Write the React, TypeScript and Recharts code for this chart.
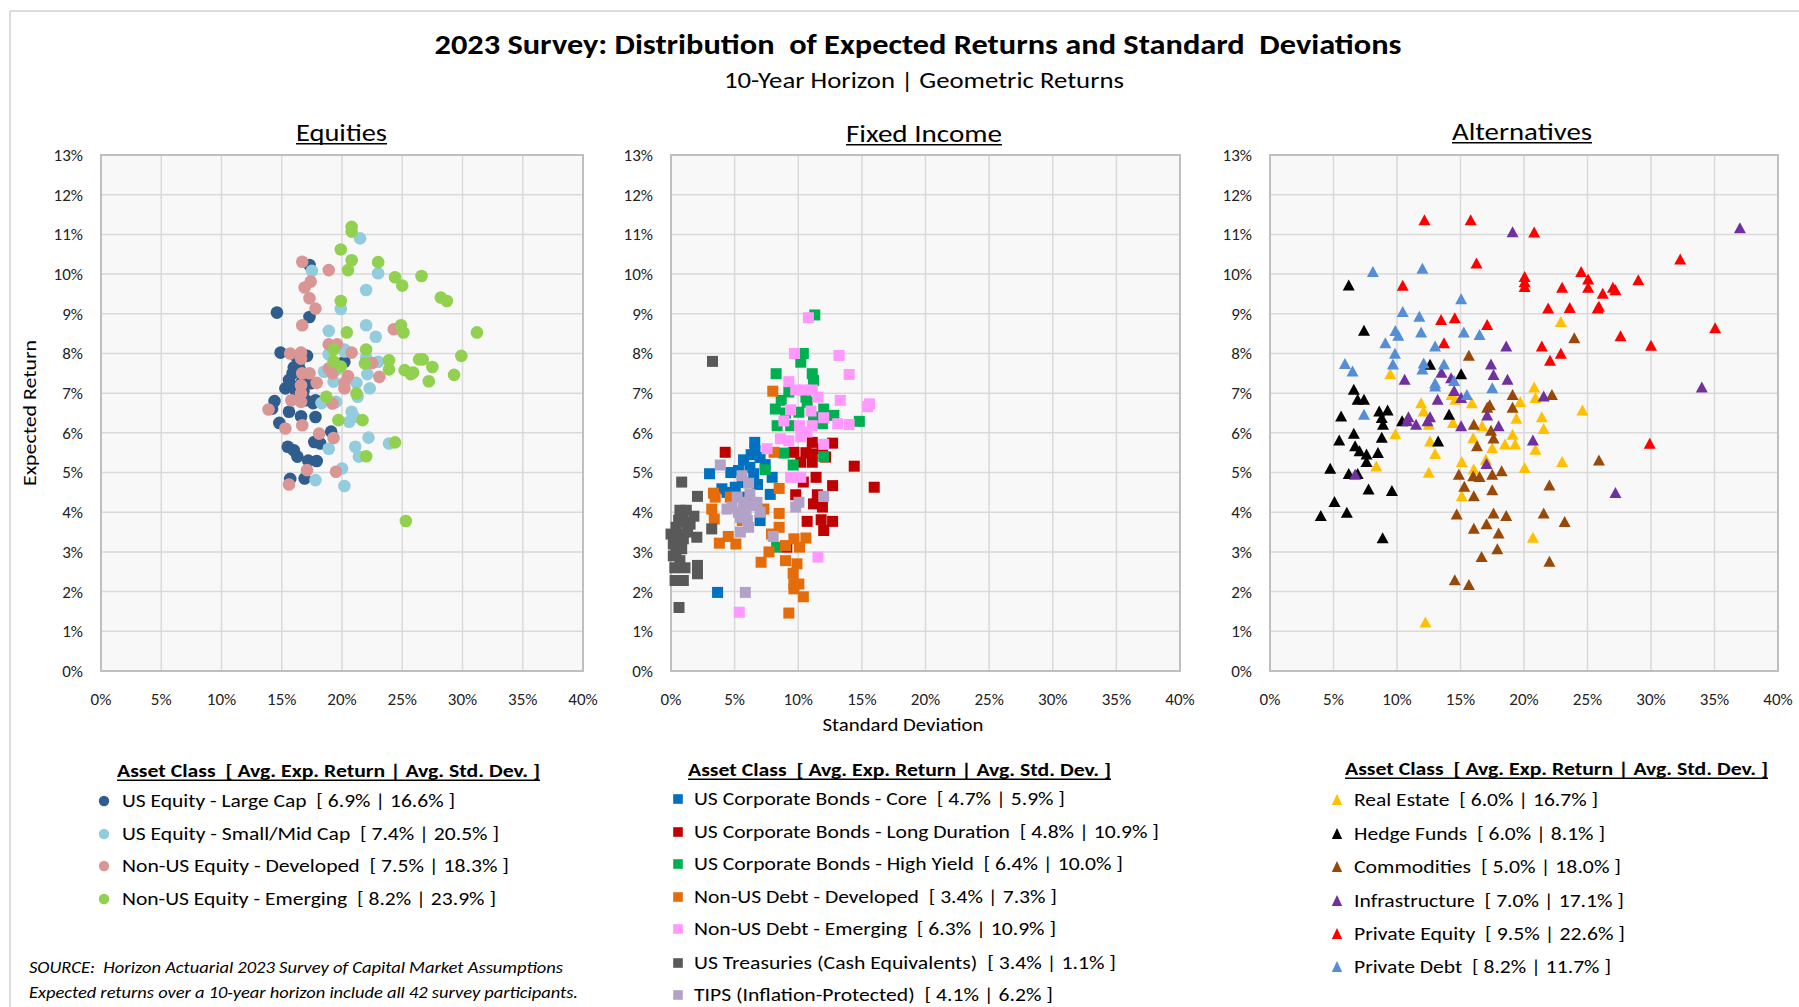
import React from 'react';
import { ScatterChart, Scatter, XAxis, YAxis, CartesianGrid, ReferenceArea } from 'recharts';

type Pt = [number, number];

const xTicks = [0, 5, 10, 15, 20, 25, 30, 35, 40];
const yTicks = [0, 1, 2, 3, 4, 5, 6, 7, 8, 9, 10, 11, 12, 13];

// ---------- Equities (std dev %, expected return %) ----------
const usLargeCap: Pt[] = [[14.6,9.03],[17.3,10.23],[17.3,8.92],[14.9,8.02],[16.2,7.92],[17.1,7.94],[20.2,7.79],[15.9,7.5],[15.6,7.33],[15.3,7.12],[16.2,7.03],[14.4,6.8],[14.2,6.61],[15.6,6.53],[16.6,6.42],[17.8,6.4],[14.8,6.25],[17.8,6.82],[19.1,6.03],[17.7,5.77],[18.2,5.73],[15.5,5.65],[16.0,5.56],[16.3,5.4],[17.2,5.3],[17.9,5.29],[15.7,4.84],[16.9,4.85],[16.7,7.3],[17.0,6.82],[16.0,7.65],[16.8,7.05],[17.4,7.25],[17.6,6.75],[16.4,7.75],[15.8,7.2],[16.5,7.6]];
const usSmallMid: Pt[] = [[21.5,10.9],[17.5,10.08],[23.0,10.02],[22.0,9.6],[19.9,9.12],[18.9,8.57],[22.0,8.71],[22.8,8.42],[20.2,8.1],[18.9,7.98],[18.5,7.54],[22.1,7.48],[23.0,7.79],[21.2,7.26],[22.3,7.12],[21.3,6.91],[19.5,6.78],[19.3,7.29],[20.8,6.53],[20.6,6.28],[22.2,5.88],[18.9,5.6],[21.1,5.65],[21.4,5.4],[23.9,5.73],[20.0,5.1],[17.8,4.81],[20.2,4.66],[18.3,6.75],[20.2,8.05],[21.0,6.4],[19.6,7.6],[22.0,7.9]];
const nonUsDeveloped: Pt[] = [[16.7,10.31],[18.9,10.1],[17.4,9.81],[16.9,9.66],[17.3,9.39],[17.8,9.13],[16.7,8.71],[24.3,8.61],[18.9,8.23],[19.6,8.23],[15.7,8.0],[16.6,8.02],[16.6,7.87],[20.8,8.02],[22.5,7.76],[18.9,7.62],[19.2,7.5],[16.7,7.5],[17.3,7.5],[20.5,7.43],[23.1,7.41],[17.9,7.26],[20.2,7.26],[20.2,7.12],[16.6,7.2],[16.6,6.99],[16.6,6.78],[15.8,6.82],[19.2,6.74],[13.9,6.59],[15.3,6.11],[16.7,6.19],[18.1,5.98],[19.3,5.87],[17.1,5.06],[19.5,5.02],[15.6,4.7]];
const nonUsEmerging: Pt[] = [[20.8,11.19],[20.8,11.07],[19.9,10.62],[20.8,10.35],[20.5,10.1],[23.0,10.3],[24.4,9.92],[25.0,9.71],[26.6,9.95],[28.2,9.41],[28.7,9.32],[19.9,9.32],[24.9,8.71],[25.1,8.53],[20.4,8.53],[31.2,8.53],[22.0,8.1],[19.3,8.1],[19.3,7.8],[19.9,7.67],[21.9,7.75],[23.9,7.83],[23.9,7.6],[25.2,7.58],[25.7,7.48],[25.9,7.52],[26.4,7.85],[26.7,7.85],[27.5,7.66],[27.2,7.3],[29.9,7.94],[29.3,7.46],[18.7,6.91],[21.2,6.99],[19.7,6.32],[21.7,6.32],[24.4,5.76],[22.0,5.41],[25.3,3.78]];

// ---------- Fixed Income ----------
const corpCore: Pt[] = [[6.58,5.76],[6.6,5.55],[5.7,5.32],[7.0,5.38],[6.2,5.13],[3.03,4.97],[4.7,5.0],[6.5,4.97],[7.95,4.88],[4.0,4.59],[5.05,4.63],[7.8,4.45],[7.0,3.79],[3.66,1.98],[5.97,4.38],[6.3,5.45],[5.3,5.05],[7.4,5.2],[4.4,4.5],[6.8,4.7],[5.6,4.75]];
const corpLong: Pt[] = [[4.26,5.51],[9.66,5.51],[11.1,5.76],[12.7,5.74],[11.1,5.47],[11.1,5.26],[12.15,5.39],[10.2,5.26],[14.4,5.16],[15.97,4.63],[12.7,4.67],[11.4,4.88],[10.4,4.76],[9.8,4.44],[11.5,4.44],[11.2,4.21],[11.9,4.13],[10.7,3.77],[11.8,3.81],[12.7,3.77],[12.0,3.54],[9.1,3.12],[11.9,5.6],[10.6,5.5]];
const corpHighYield: Pt[] = [[11.3,8.97],[10.4,8.0],[10.2,7.78],[8.26,7.49],[11.1,7.49],[11.2,7.32],[9.26,7.03],[8.66,6.82],[8.2,6.6],[10.7,6.77],[12.0,6.6],[12.8,6.44],[10.05,6.52],[8.34,6.18],[9.4,6.18],[11.9,6.23],[14.8,6.29],[8.87,5.49],[9.6,5.19],[7.4,5.07],[12.0,5.4],[8.3,3.12],[11.2,6.4],[9.0,6.5],[10.6,6.9]];
const debtDeveloped: Pt[] = [[8.0,7.05],[8.1,5.51],[8.5,4.6],[3.34,4.48],[3.47,4.38],[3.2,4.08],[3.4,3.83],[4.66,4.38],[8.5,3.97],[8.5,3.62],[7.9,3.45],[9.66,3.33],[10.6,3.35],[4.5,3.39],[3.8,3.22],[5.1,3.2],[7.7,3.0],[9.0,3.16],[10.1,3.12],[7.08,2.74],[9.0,2.78],[9.9,2.7],[9.6,2.46],[9.66,2.19],[10.05,2.19],[9.66,2.07],[10.4,1.87],[9.26,1.46],[7.3,4.08],[5.6,3.79]];
const debtEmerging: Pt[] = [[10.8,8.9],[9.7,8.0],[13.2,7.95],[14.0,7.47],[9.26,7.29],[9.8,7.08],[10.4,7.08],[11.1,7.08],[11.55,6.9],[13.3,6.82],[15.45,6.66],[15.6,6.73],[9.4,6.58],[11.0,6.55],[8.87,6.3],[10.1,6.18],[11.1,6.18],[12.0,6.38],[13.1,6.23],[14.0,6.21],[10.7,6.02],[8.6,5.85],[9.26,5.8],[10.2,5.9],[7.55,5.6],[12.0,5.71],[9.4,4.88],[10.2,4.88],[11.55,2.87],[5.37,1.48]];
const treasuries: Pt[] = [[3.26,7.8],[0.84,4.76],[2.08,4.4],[0.7,4.05],[1.2,4.05],[1.8,3.9],[0.6,3.8],[1.1,3.75],[0.4,3.62],[1.5,3.7],[3.2,3.58],[2.03,3.37],[0,3.45],[0.45,3.45],[0.97,3.33],[0.18,3.2],[0.84,3.08],[0.4,2.95],[0.18,2.9],[0.7,2.78],[0.3,2.6],[1.1,2.6],[2.08,2.66],[2.08,2.45],[0.32,2.28],[0.97,2.28],[0.63,1.6],[1.3,3.5],[0.9,3.95]];
const tips: Pt[] = [[3.87,5.19],[5.58,4.92],[6.1,4.73],[5.2,4.38],[4.8,4.13],[5.7,4.25],[6.4,4.17],[6.76,4.25],[7.0,4.0],[5.45,3.87],[6.0,3.79],[6.1,3.62],[5.45,3.5],[4.4,4.08],[9.8,4.13],[10.05,4.25],[12.0,4.4],[8.03,3.39],[5.84,1.98],[5.9,4.05],[5.3,4.0],[6.2,4.45]];

// ---------- Alternatives ----------
const realEstate: Pt[] = [[9.47,7.48],[9.87,5.97],[8.37,5.16],[12.24,1.23],[11.9,6.75],[12.1,6.54],[12.5,6.21],[14.3,6.96],[14.6,6.84],[15.9,6.75],[14.4,6.25],[12.6,5.79],[13.0,5.47],[12.5,5.0],[15.1,5.27],[15.1,4.41],[16.05,5.08],[17.0,5.33],[16.7,6.17],[16.0,5.87],[17.5,5.62],[18.5,5.71],[19.3,5.71],[19.1,5.96],[19.4,6.36],[19.7,6.78],[20.8,7.15],[20.9,6.88],[20.05,5.12],[20.7,3.36],[20.9,5.58],[22.9,8.8],[24.6,6.57],[21.4,6.4],[21.55,6.1],[23.0,5.27]];
const hedgeFunds: Pt[] = [[6.2,9.72],[7.4,8.58],[12.6,7.72],[15.05,7.48],[6.6,7.09],[6.9,6.84],[7.4,6.84],[5.6,6.42],[8.6,6.54],[9.26,6.57],[8.8,6.38],[8.9,6.21],[8.8,5.88],[14.1,6.46],[5.45,5.81],[6.6,5.98],[6.7,5.67],[7.05,5.54],[7.6,5.46],[7.6,5.27],[8.5,5.5],[13.24,5.79],[4.74,5.1],[6.2,4.97],[6.9,4.97],[7.76,4.58],[9.6,4.54],[5.08,4.26],[4.0,3.91],[6.05,3.99],[8.87,3.35],[10.4,6.3]];
const commodities: Pt[] = [[15.66,7.95],[19.1,6.96],[19.1,6.64],[17.1,6.64],[16.05,6.21],[17.4,6.06],[17.6,5.86],[16.3,5.67],[14.87,4.95],[16.0,4.91],[16.5,4.89],[17.5,4.95],[18.24,5.04],[15.3,4.65],[17.5,4.56],[16.05,4.41],[14.7,3.95],[17.6,3.97],[18.6,3.91],[16.05,3.59],[17.05,3.7],[18.0,3.47],[17.9,3.07],[16.66,2.88],[14.55,2.29],[15.66,2.17],[23.96,8.39],[22.2,6.96],[25.9,5.31],[22.0,4.68],[21.55,3.97],[23.2,3.76],[22.0,2.76],[17.3,6.7]];
const infrastructure: Pt[] = [[19.1,11.06],[18.6,8.18],[17.4,7.73],[17.6,7.46],[18.7,7.34],[13.5,7.52],[10.6,7.34],[14.26,7.38],[14.5,7.06],[15.05,6.88],[13.2,6.84],[17.1,6.44],[18.0,6.17],[15.05,6.17],[12.6,6.4],[12.4,6.3],[10.8,6.3],[11.5,6.21],[20.7,5.81],[17.05,5.22],[6.7,4.95],[37.0,11.16],[34.0,7.15],[21.55,6.92],[27.2,4.49],[10.9,6.4]];
const privateEquity: Pt[] = [[12.16,11.36],[15.8,11.36],[20.8,11.05],[16.26,10.27],[10.45,9.71],[20.05,9.93],[20.05,9.8],[20.05,9.68],[13.47,8.85],[14.55,8.89],[17.1,8.72],[13.7,8.26],[21.4,8.18],[24.5,10.06],[25.05,9.87],[25.05,9.66],[23.0,9.66],[26.2,9.51],[27.0,9.66],[27.2,9.6],[29.0,9.85],[32.3,10.37],[21.9,9.14],[23.6,9.15],[25.8,9.14],[25.9,9.18],[35.05,8.64],[27.6,8.44],[30.0,8.2],[22.9,8.0],[22.05,7.82],[29.9,5.73]];
const privateDebt: Pt[] = [[8.1,10.06],[12.0,10.14],[15.05,9.37],[10.45,9.05],[11.76,8.93],[9.87,8.57],[10.1,8.45],[11.9,8.53],[13.0,8.18],[15.26,8.53],[16.5,8.47],[9.08,8.26],[9.84,8.0],[9.68,7.73],[5.9,7.74],[6.5,7.55],[12.1,7.75],[12.0,7.6],[13.7,7.73],[14.5,7.31],[13.0,7.25],[13.0,7.17],[15.5,6.96],[17.5,7.13],[7.4,6.46]];

// ---------- Legend labels ----------
const equityLabels = [
  'US Equity - Large Cap  [ 6.9% | 16.6% ]',
  'US Equity - Small/Mid Cap  [ 7.4% | 20.5% ]',
  'Non-US Equity - Developed  [ 7.5% | 18.3% ]',
  'Non-US Equity - Emerging  [ 8.2% | 23.9% ]',
];
const fixedLabels = [
  'US Corporate Bonds - Core  [ 4.7% | 5.9% ]',
  'US Corporate Bonds - Long Duration  [ 4.8% | 10.9% ]',
  'US Corporate Bonds - High Yield  [ 6.4% | 10.0% ]',
  'Non-US Debt - Developed  [ 3.4% | 7.3% ]',
  'Non-US Debt - Emerging  [ 6.3% | 10.9% ]',
  'US Treasuries (Cash Equivalents)  [ 3.4% | 1.1% ]',
  'TIPS (Inflation-Protected)  [ 4.1% | 6.2% ]',
];
const altLabels = [
  'Real Estate  [ 6.0% | 16.7% ]',
  'Hedge Funds  [ 6.0% | 8.1% ]',
  'Commodities  [ 5.0% | 18.0% ]',
  'Infrastructure  [ 7.0% | 17.1% ]',
  'Private Equity  [ 9.5% | 22.6% ]',
  'Private Debt  [ 8.2% | 11.7% ]',
];

const equityColors = ['#2f5d8e', '#93cddd', '#d99694', '#92d050'];
const fixedColors = ['#0070c0', '#c00000', '#00b050', '#e46c0a', '#ff99ff', '#595959', '#b3a2c7'];
const altColors = ['#ffc000', '#000000', '#984807', '#7030a0', '#ff0000', '#558ed5'];

const equitySeries = [usLargeCap, usSmallMid, nonUsDeveloped, nonUsEmerging];
const fixedSeries = [corpCore, corpLong, corpHighYield, debtDeveloped, debtEmerging, treasuries, tips];
const altSeries = [realEstate, hedgeFunds, commodities, infrastructure, privateEquity, privateDebt];

const FONT = "Carlito, Calibri, Lato, 'Open Sans', sans-serif";

const toData = (pts: Pt[]) => pts.map(([x, y]) => ({ x, y }));

type Kind = 'circle' | 'square' | 'triangle';

const markerShape = (kind: Kind, color: string) => (p: any) => {
  const { cx, cy } = p;
  if (cx == null || cy == null) return <g />;
  if (kind === 'circle') return <circle cx={cx} cy={cy} r={6.3} fill={color} />;
  if (kind === 'square') return <rect x={cx - 5.5} y={cy - 5.5} width={11} height={11} fill={color} />;
  return (
    <polygon
      points={`${cx},${cy - 5.8} ${cx + 6},${cy + 5.2} ${cx - 6},${cy + 5.2}`}
      fill={color}
    />
  );
};

const XTick = (p: any) => (
  <text x={p.x} y={p.y + 28} dy="0.35em" textAnchor="middle" fontSize={17} fontFamily={FONT} fill="#222">
    {`${p.payload.value}%`}
  </text>
);
const YTick = (p: any) => (
  <text x={p.x - 18} y={p.y} dy="0.35em" textAnchor="end" fontSize={17} fontFamily={FONT} fill="#222">
    {`${p.payload.value}%`}
  </text>
);

type PanelProps = {
  left: number;
  width: number;
  marginLeft: number;
  marginRight: number;
  series: Pt[][];
  colors: string[];
  kind: Kind;
};

const Panel = ({ left, width, marginLeft, marginRight, series, colors, kind }: PanelProps) => (
  <div style={{ position: 'absolute', left, top: 140, width, height: 600 }}>
    <ScatterChart
      width={width}
      height={600}
      margin={{ top: 15, right: marginRight, bottom: 39, left: marginLeft }}
    >
      <CartesianGrid stroke="#d9d9d9" strokeWidth={1.5} fill="#f8f8f8" fillOpacity={1} />
      <XAxis
        type="number"
        dataKey="x"
        domain={[0, 40]}
        ticks={xTicks}
        interval={0}
        height={30}
        axisLine={false}
        tickLine={false}
        tickSize={0}
        tickMargin={0}
        tick={XTick}
      />
      <YAxis
        type="number"
        dataKey="y"
        domain={[0, 13]}
        ticks={yTicks}
        interval={0}
        width={60}
        axisLine={false}
        tickLine={false}
        tickSize={0}
        tickMargin={0}
        tick={YTick}
      />
      <ReferenceArea x1={0} x2={40} y1={0} y2={13} fill="none" stroke="#bfbfbf" strokeWidth={2} ifOverflow="visible" />
      {series.map((s, i) => (
        <Scatter
          key={i}
          data={toData(s)}
          fill={colors[i]}
          isAnimationActive={false}
          shape={markerShape(kind, colors[i])}
        />
      ))}
    </ScatterChart>
  </div>
);

type TxtProps = {
  x: number;
  y: number;
  w?: number;
  size: number;
  bold?: boolean;
  italic?: boolean;
  anchor?: 'start' | 'middle' | 'end';
  underline?: boolean;
  children: string;
};

const Txt = ({ x, y, w, size, bold, italic, anchor = 'start', underline, children }: TxtProps) => {
  const x0 = anchor === 'middle' && w ? x - w / 2 : x;
  const uy = y + size * 0.35 + 3;
  return (
    <g>
      <text
        x={x}
        y={y}
        dy="0.35em"
        fontSize={size}
        fontFamily={FONT}
        fontWeight={bold ? 700 : 400}
        fontStyle={italic ? 'italic' : 'normal'}
        textAnchor={anchor}
        fill="#000"
        textLength={w}
        lengthAdjust={w ? 'spacingAndGlyphs' : undefined}
        style={{ whiteSpace: 'pre' }}
      >
        {children}
      </text>
      {underline && w ? <line x1={x0} x2={x0 + w} y1={uy} y2={uy} stroke="#000" strokeWidth={1.6} /> : null}
    </g>
  );
};

const Marker = ({ kind, x, y, color }: { kind: Kind; x: number; y: number; color: string }) => {
  if (kind === 'circle') return <circle cx={x} cy={y} r={5.2} fill={color} />;
  if (kind === 'square') return <rect x={x - 4.8} y={y - 4.8} width={9.6} height={9.6} fill={color} />;
  return <polygon points={`${x},${y - 6} ${x + 5.2},${y + 5} ${x - 5.2},${y + 5}`} fill={color} />;
};

type LegendProps = {
  titleX: number;
  titleY: number;
  markerX: number;
  textX: number;
  rows: number[];
  labels: string[];
  widths: number[];
  colors: string[];
  kind: Kind;
};

const LEGEND_TITLE = 'Asset Class  [ Avg. Exp. Return | Avg. Std. Dev. ]';

const Legend = ({ titleX, titleY, markerX, textX, rows, labels, widths, colors, kind }: LegendProps) => (
  <g>
    <Txt x={titleX} y={titleY} w={423} size={18} bold underline>
      {LEGEND_TITLE}
    </Txt>
    {labels.map((l, i) => (
      <g key={i}>
        <Marker kind={kind} x={markerX} y={rows[i]} color={colors[i]} />
        <Txt x={textX} y={rows[i]} w={widths[i]} size={18.5}>
          {l}
        </Txt>
      </g>
    ))}
  </g>
);

export default function App() {
  return (
    <div style={{ position: 'absolute', left: 0, top: 0, width: 1799, height: 1007, background: '#fff', overflow: 'hidden' }}>
      <Panel left={0} width={600} marginLeft={41} marginRight={17} series={equitySeries} colors={equityColors} kind="circle" />
      <Panel left={600} width={600} marginLeft={11} marginRight={20} series={fixedSeries} colors={fixedColors} kind="square" />
      <Panel left={1190} width={609} marginLeft={20} marginRight={21} series={altSeries} colors={altColors} kind="triangle" />

      <svg
        width={1799}
        height={1007}
        style={{ position: 'absolute', left: 0, top: 0, pointerEvents: 'none' }}
      >
        <line x1={10} x2={1799} y1={11} y2={11} stroke="#d0d0d0" strokeWidth={1.5} />
        <line x1={10} x2={10} y1={11} y2={1007} stroke="#d0d0d0" strokeWidth={1.5} />

        <Txt x={918} y={44} w={967} size={29} bold anchor="middle">
          {'2023 Survey: Distribution  of Expected Returns and Standard  Deviations'}
        </Txt>
        <Txt x={924} y={80} w={400} size={22} anchor="middle">
          {'10-Year Horizon | Geometric Returns'}
        </Txt>

        <Txt x={341.5} y={132} w={91} size={25} anchor="middle" underline>
          {'Equities'}
        </Txt>
        <Txt x={924} y={133} w={156} size={25} anchor="middle" underline>
          {'Fixed Income'}
        </Txt>
        <Txt x={1522} y={131} w={140} size={25} anchor="middle" underline>
          {'Alternatives'}
        </Txt>

        <g transform="translate(30,413) rotate(-90)">
          <Txt x={0} y={0} w={146} size={18} anchor="middle">
            {'Expected Return'}
          </Txt>
        </g>
        <Txt x={903} y={725} w={161} size={18} anchor="middle">
          {'Standard Deviation'}
        </Txt>

        <Legend
          titleX={117}
          titleY={771}
          markerX={104}
          textX={122}
          rows={[801, 834, 866, 899]}
          labels={equityLabels}
          widths={[333, 377, 387, 374]}
          colors={equityColors}
          kind="circle"
        />
        <Legend
          titleX={688}
          titleY={770}
          markerX={678}
          textX={694}
          rows={[799, 832, 864, 897, 929, 963, 995]}
          labels={fixedLabels}
          widths={[371, 465, 429, 363, 362, 422, 359]}
          colors={fixedColors}
          kind="square"
        />
        <Legend
          titleX={1345}
          titleY={769}
          markerX={1337}
          textX={1354}
          rows={[800, 834, 867, 901, 934, 967]}
          labels={altLabels}
          widths={[244, 251, 267, 270, 271, 257]}
          colors={altColors}
          kind="triangle"
        />

        <Txt x={29} y={967} w={534} size={16.5} italic>
          {'SOURCE:  Horizon Actuarial 2023 Survey of Capital Market Assumptions'}
        </Txt>
        <Txt x={29} y={992} w={549} size={16.5} italic>
          {'Expected returns over a 10-year horizon include all 42 survey participants.'}
        </Txt>
      </svg>
    </div>
  );
}
